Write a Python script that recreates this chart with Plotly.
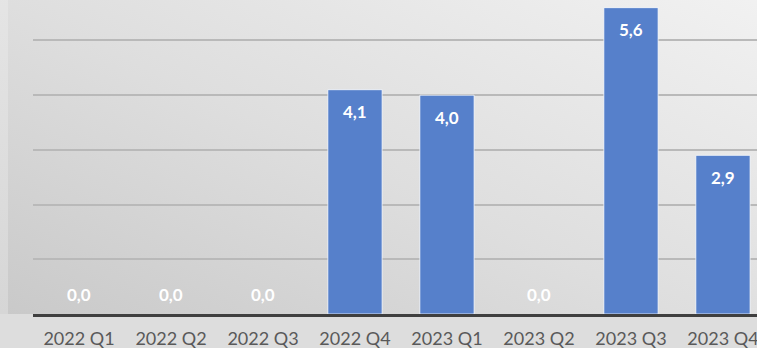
import base64
import plotly.graph_objects as go

# Quarterly values
quarters = ["2022 Q1", "2022 Q2", "2022 Q3", "2022 Q4",
            "2023 Q1", "2023 Q2", "2023 Q3", "2023 Q4"]
values = [0.0, 0.0, 0.0, 4.1, 4.0, 0.0, 5.6, 2.9]

BAR_COLOR = "#5680cb"
FONT = "Lato"

# Soft grey gradient backdrop, with a lighter strip on the far left
svg = """<svg xmlns='http://www.w3.org/2000/svg' width='757' height='348' viewBox='0 0 757 348' preserveAspectRatio='none'>
<defs>
<linearGradient id='g' x1='1' y1='0' x2='0' y2='1'>
<stop offset='0' stop-color='#f3f3f3'/>
<stop offset='0.55' stop-color='#dedede'/>
<stop offset='1' stop-color='#c9c9c9'/>
</linearGradient>
<linearGradient id='s' x1='0' y1='0' x2='0' y2='1'>
<stop offset='0' stop-color='#e6e6e6'/>
<stop offset='1' stop-color='#d6d6d6'/>
</linearGradient>
</defs>
<rect x='0' y='0' width='757' height='348' fill='url(#g)'/>
<rect x='0' y='0' width='8' height='348' fill='url(#s)'/>
</svg>"""
bg_uri = "data:image/svg+xml;base64," + base64.b64encode(svg.encode()).decode()

fig = go.Figure()
fig.add_trace(go.Bar(
    x=quarters,
    y=values,
    width=0.59,
    marker=dict(
        color=BAR_COLOR,
        line=dict(color="rgba(255,255,255,0.75)",
                  width=[1 if v > 0 else 0 for v in values]),
    ),
    hoverinfo="skip",
))

# Value labels: inside the top of each bar, just above the axis for zero bars
for q, v in zip(quarters, values):
    fig.add_annotation(
        x=q, y=v,
        text=f"{v:.1f}".replace(".", ","),
        showarrow=False,
        yshift=-22 if v > 0 else 20,
        font=dict(family=FONT, size=17, color="#ffffff", weight="bold"),
    )

fig.update_layout(
    width=757,
    height=348,
    margin=dict(l=33, r=0, t=0, b=34),
    paper_bgcolor="#dddddd",
    plot_bgcolor="rgba(0,0,0,0)",
    showlegend=False,
    bargap=0.41,
    images=[dict(
        source=bg_uri, xref="paper", yref="paper",
        x=-33 / 724, y=1 + 34 / 314, sizex=757 / 724, sizey=348 / 314,
        xanchor="left", yanchor="top", sizing="stretch", layer="below",
    )],
    xaxis=dict(
        type="category",
        range=[-0.5, 7.37],
        showgrid=False,
        showline=True,
        linecolor="#3f3f3f",
        linewidth=3,
        ticks="outside",
        ticklen=6,
        tickcolor="rgba(0,0,0,0)",
        tickfont=dict(family=FONT, size=18, color="#595959"),
        automargin=False,
        fixedrange=True,
    ),
    yaxis=dict(
        range=[0, 5.74],
        tickvals=[1, 2, 3, 4, 5],
        showticklabels=False,
        showgrid=True,
        gridcolor="#b9b9b9",
        gridwidth=2,
        zeroline=False,
        automargin=False,
        fixedrange=True,
    ),
)

fig.write_html("out.html", config={"displayModeBar": False})
